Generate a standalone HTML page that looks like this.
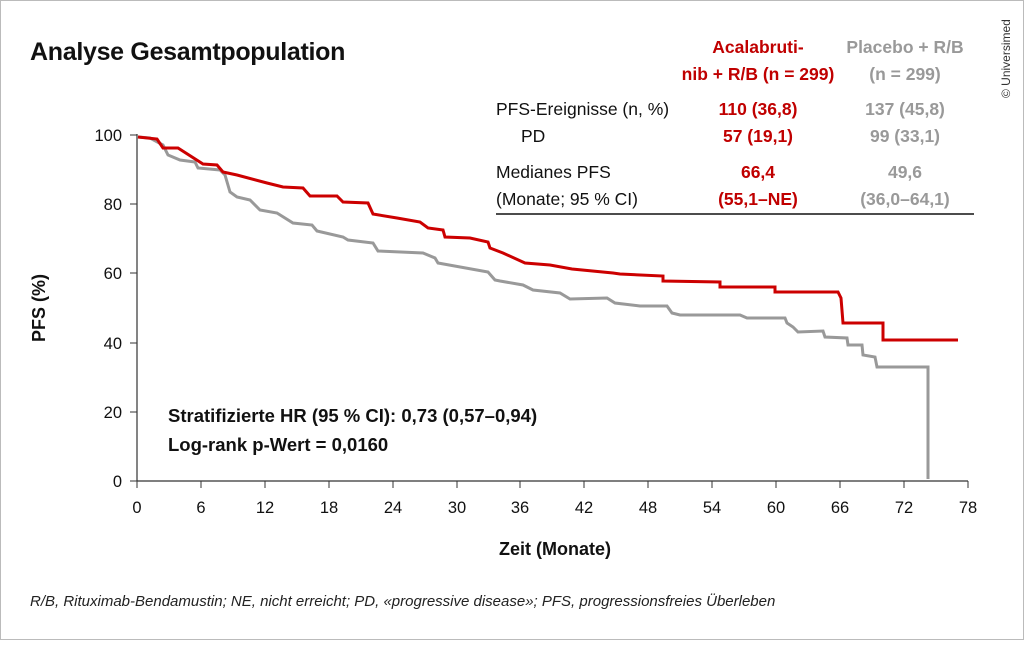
<!DOCTYPE html>
<html><head><meta charset="utf-8"><style>
body{margin:0;background:#fff;}
.f{font-family:"Liberation Sans",sans-serif;}
</style></head><body>
<svg width="1024" height="640" xmlns="http://www.w3.org/2000/svg" class="f">
<rect x="0.5" y="0.5" width="1023" height="639" fill="#fff" stroke="#bbb"/>
<text x="30" y="60" font-size="25" font-weight="bold" fill="#111" letter-spacing="-0.3">Analyse Gesamtpopulation</text>
<text x="1010" y="98" font-size="12" fill="#333" transform="rotate(-90 1010 98)">© Universimed</text>
<g font-size="17.5" font-weight="bold" text-anchor="middle">
<text x="758" y="53" fill="#c00000">Acalabruti-</text>
<text x="758" y="80" fill="#c00000">nib + R/B (n = 299)</text>
<text x="905" y="53" fill="#999">Placebo + R/B</text>
<text x="905" y="80" fill="#999">(n = 299)</text>
<text x="758" y="115" fill="#c00000">110 (36,8)</text>
<text x="758" y="142" fill="#c00000">57 (19,1)</text>
<text x="758" y="178" fill="#c00000">66,4</text>
<text x="758" y="205" fill="#c00000">(55,1–NE)</text>
<text x="905" y="115" fill="#999">137 (45,8)</text>
<text x="905" y="142" fill="#999">99 (33,1)</text>
<text x="905" y="178" fill="#999">49,6</text>
<text x="905" y="205" fill="#999">(36,0–64,1)</text>
</g>
<g font-size="17.5" fill="#111">
<text x="496" y="115">PFS-Ereignisse (n, %)</text>
<text x="521" y="142">PD</text>
<text x="496" y="178">Medianes PFS</text>
<text x="496" y="205">(Monate; 95 % CI)</text>
</g>
<line x1="496" y1="214" x2="974" y2="214" stroke="#111" stroke-width="1.5"/>
<g stroke="#333" stroke-width="1.2">
<line x1="137" y1="134" x2="137" y2="481"/>
<line x1="137" y1="481" x2="968" y2="481"/>
</g>
<g stroke="#333" stroke-width="1">
<line x1="130" y1="135" x2="137" y2="135"/><line x1="130" y1="204" x2="137" y2="204"/><line x1="130" y1="273" x2="137" y2="273"/><line x1="130" y1="343" x2="137" y2="343"/><line x1="130" y1="412" x2="137" y2="412"/><line x1="130" y1="481" x2="137" y2="481"/>
<line x1="137" y1="481" x2="137" y2="488"/><line x1="201" y1="481" x2="201" y2="488"/><line x1="265" y1="481" x2="265" y2="488"/><line x1="329" y1="481" x2="329" y2="488"/><line x1="393" y1="481" x2="393" y2="488"/><line x1="457" y1="481" x2="457" y2="488"/><line x1="520" y1="481" x2="520" y2="488"/><line x1="584" y1="481" x2="584" y2="488"/><line x1="648" y1="481" x2="648" y2="488"/><line x1="712" y1="481" x2="712" y2="488"/><line x1="776" y1="481" x2="776" y2="488"/><line x1="840" y1="481" x2="840" y2="488"/><line x1="904" y1="481" x2="904" y2="488"/><line x1="968" y1="481" x2="968" y2="488"/>
</g>
<g font-size="16.5" fill="#111" text-anchor="end">
<text x="122" y="141">100</text><text x="122" y="210">80</text><text x="122" y="279">60</text><text x="122" y="349">40</text><text x="122" y="418">20</text><text x="122" y="487">0</text>
</g>
<g font-size="16.5" fill="#111" text-anchor="middle">
<text x="137" y="513">0</text><text x="201" y="513">6</text><text x="265" y="513">12</text><text x="329" y="513">18</text><text x="393" y="513">24</text><text x="457" y="513">30</text><text x="520" y="513">36</text><text x="584" y="513">42</text><text x="648" y="513">48</text><text x="712" y="513">54</text><text x="776" y="513">60</text><text x="840" y="513">66</text><text x="904" y="513">72</text><text x="968" y="513">78</text>
</g>
<text x="555" y="555" font-size="18" font-weight="bold" text-anchor="middle" fill="#111">Zeit (Monate)</text>
<text x="45" y="308" font-size="18" font-weight="bold" text-anchor="middle" fill="#111" transform="rotate(-90 45 308)">PFS (%)</text>
<polyline fill="none" stroke="#999" stroke-width="3" points="138,137 150,138 163,145 168,155 180,160 195,162 198,168 220,170 225,175 230,192 237,197 250,200 260,210 277,213 293,223 312,225 317,231 343,237 348,240 373,243 378,251 423,253 435,258 438,263 488,272 495,280 500,281 523,285 533,290 560,293 570,299 607,298 615,303 640,306 667,306 672,313 680,315 740,315 747,318 785,318 787,323 793,327 798,332 823,331 825,337 847,338 848,345 862,345 863,355 875,357 877,367 928,367 928,479"/>
<polyline fill="none" stroke="#cc0000" stroke-width="3" points="138,137 157,139 163,148 178,148 203,164 217,165 223,172 237,175 267,183 283,187 303,188 310,196 337,196 343,202 368,203 373,214 397,218 420,222 428,228 443,230 445,237 470,238 488,242 490,248 503,253 525,263 550,265 572,269 613,273 620,274 663,276 663,281 720,282 720,287 775,287 775,292 838,292 841,298 843,323 883,323 883,340 958,340"/>
<text x="168" y="422" font-size="18.5" font-weight="bold" fill="#111">Stratifizierte HR (95 % CI): 0,73 (0,57–0,94)</text>
<text x="168" y="451" font-size="18.5" font-weight="bold" fill="#111">Log-rank p-Wert = 0,0160</text>
<text x="30" y="606" font-size="15" font-style="italic" fill="#222">R/B, Rituximab-Bendamustin; NE, nicht erreicht; PD, «progressive disease»; PFS, progressionsfreies Überleben</text>
</svg>
</body></html>
